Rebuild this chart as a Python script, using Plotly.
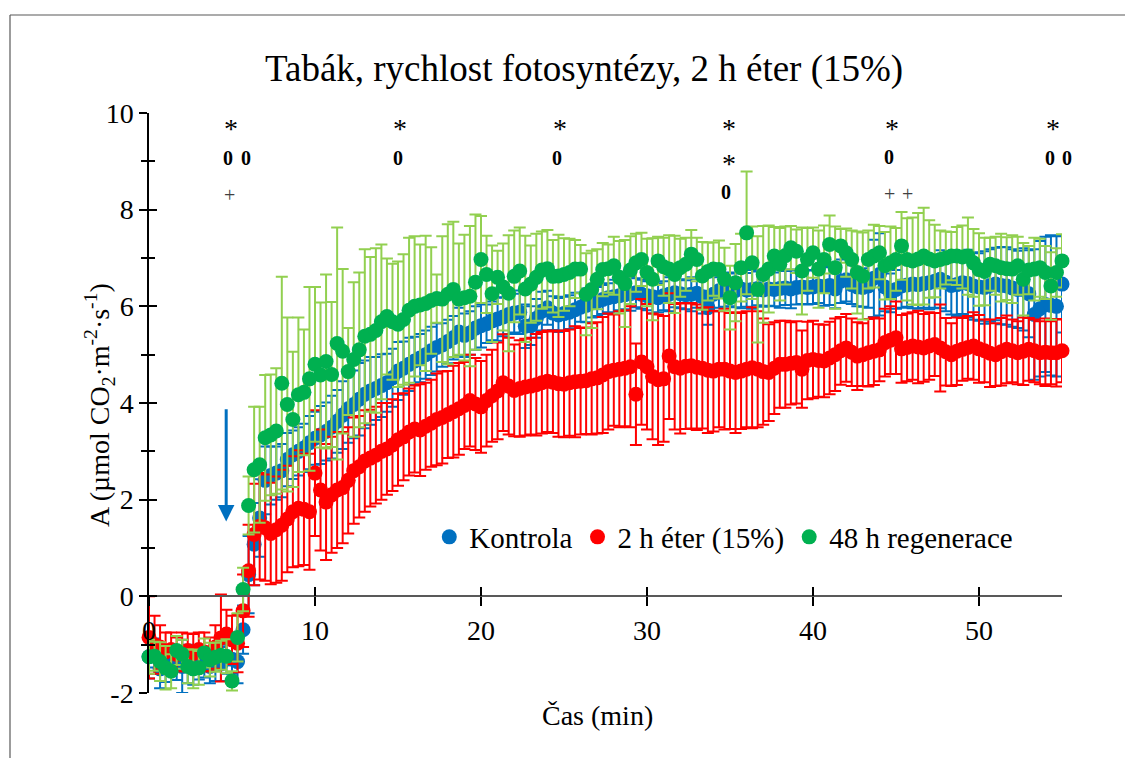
import plotly.graph_objects as go

# ---- data -------------------------------------------------------------
SAMPLE_STEP_MIN = 20 / 60          # one reading every 20 s
N_SAMPLES = 166                    # 0 ... 55 min
time_min = [round(i * SAMPLE_STEP_MIN, 4) for i in range(N_SAMPLES)]

kontrola = [
    -1.25, -1.17, -1.5, -1.42, -1.35, -1.38, -1.45, -1.4, -1.48, -1.42, -1.38, -1.45, -1.35, -1.4, -1.3,
    -1.3, -1.35, -0.69, 0.45, 1.08, 1.62, 2.4, 2.5, 2.55, 2.6, 2.83, 2.93, 3.0, 3.07, 3.18,
    3.27, 3.34, 3.41, 3.5, 3.62, 3.75, 3.88, 3.97, 4.08, 4.18, 4.25, 4.3, 4.36, 4.42, 4.52,
    4.66, 4.72, 4.8, 4.87, 4.93, 5.0, 5.08, 5.15, 5.2, 5.27, 5.35, 5.47, 5.4, 5.45, 5.55,
    5.6, 5.64, 5.7, 5.74, 5.78, 5.83, 5.86, 5.88, 5.59, 5.6, 5.75, 5.9, 5.97, 5.86, 5.82,
    5.85, 5.88, 5.93, 5.98, 6.02, 6.07, 6.1, 6.14, 6.18, 6.2, 6.22, 6.24, 6.26, 6.28, 6.25,
    6.22, 6.2, 6.18, 6.22, 6.25, 6.28, 6.26, 6.24, 6.25, 6.27, 6.2, 5.97, 6.25, 6.32, 6.34,
    6.35, 6.33, 6.36, 6.34, 6.35, 6.37, 6.34, 6.36, 6.35, 6.37, 6.38, 6.36, 6.39, 6.4, 6.39,
    6.4, 6.42, 6.41, 6.43, 6.36, 6.52, 6.55, 6.45, 6.4, 6.39, 6.42, 6.58, 6.66, 6.4, 6.28,
    6.35, 6.42, 6.44, 6.46, 6.45, 6.47, 6.49, 6.52, 6.56, 6.5, 6.43, 6.45, 6.49, 6.47, 6.42,
    6.4, 6.39, 6.43, 6.46, 6.43, 6.42, 6.38, 6.35, 6.35, 6.26, 5.83, 5.95, 6.04, 6.02, 6.0, 6.46,
]
kontrola_sd = [
    0.45, 0.3, 0.4, 0.35, 0.3, 0.35, 0.55, 0.4, 0.35, 0.3, 0.3, 0.35, 0.4, 0.35, 0.3,
    0.3, 0.45, 0.5, 0.8, 0.85, 0.8, 0.7, 0.6, 0.55, 0.55, 0.55, 0.5, 0.5, 0.5, 0.55,
    0.55, 0.6, 0.6, 0.65, 0.65, 0.7, 0.7, 0.7, 0.75, 0.7, 0.7, 0.65, 0.65, 0.6, 0.6,
    0.6, 0.55, 0.55, 0.5, 0.5, 0.5, 0.5, 0.5, 0.45, 0.45, 0.45, 0.5, 0.45, 0.45, 0.45,
    0.45, 0.4, 0.4, 0.45, 0.4, 0.4, 0.4, 0.45, 0.45, 0.4, 0.4, 0.4, 0.35, 0.35, 0.35,
    0.35, 0.35, 0.35, 0.3, 0.35, 0.3, 0.3, 0.3, 0.3, 0.35, 0.3, 0.3, 0.35, 0.3, 0.3,
    0.3, 0.35, 0.3, 0.3, 0.35, 0.3, 0.3, 0.3, 0.35, 0.3, 0.35, 0.35, 0.35, 0.35, 0.35,
    0.35, 0.35, 0.4, 0.35, 0.4, 0.35, 0.35, 0.35, 0.35, 0.4, 0.35, 0.4, 0.35, 0.35, 0.35,
    0.35, 0.35, 0.4, 0.4, 0.4, 0.45, 0.45, 0.4, 0.4, 0.4, 0.45, 0.8, 0.85, 0.5, 0.4,
    0.4, 0.45, 0.45, 0.5, 0.5, 0.5, 0.55, 0.55, 0.6, 0.6, 0.6, 0.65, 0.65, 0.7, 0.7,
    0.7, 0.75, 0.75, 0.75, 0.8, 0.8, 0.8, 0.8, 0.85, 0.9, 1.35, 1.4, 1.4, 1.45, 1.45, 1.0,
]

eter = [
    -0.85, -1.0, -1.05, -1.15, -1.1, -1.2, -1.15, -1.12, -1.18, -1.1, -1.15, -1.2, -1.05, -0.86, -0.78,
    -0.9, -0.97, -0.3, 0.53, 1.28, 1.45, 1.42, 1.3, 1.38, 1.47, 1.6, 1.75, 1.82, 1.8, 1.75,
    2.55, 2.2, 1.95, 2.1, 2.2, 2.25, 2.4, 2.6, 2.68, 2.8, 2.86, 2.92, 3.0, 3.05, 3.13,
    3.24, 3.3, 3.4, 3.46, 3.44, 3.52, 3.58, 3.66, 3.7, 3.76, 3.82, 3.88, 3.95, 4.05, 3.98,
    3.92, 4.05, 4.15, 4.25, 4.42, 4.35, 4.26, 4.3, 4.33, 4.35, 4.38, 4.42, 4.45, 4.43, 4.4,
    4.39, 4.42, 4.44, 4.45, 4.46, 4.5, 4.52, 4.58, 4.65, 4.68, 4.7, 4.72, 4.75, 4.18, 4.85,
    4.75, 4.55, 4.48, 4.5, 4.97, 4.75, 4.72, 4.76, 4.77, 4.74, 4.72, 4.68, 4.66, 4.7, 4.7,
    4.66, 4.63, 4.66, 4.7, 4.73, 4.7, 4.65, 4.63, 4.72, 4.8, 4.8, 4.82, 4.84, 4.7, 4.88,
    4.9, 4.88, 4.87, 4.93, 5.0, 5.08, 5.14, 5.05, 4.97, 5.0, 5.04, 5.07, 5.1, 5.25, 5.3,
    5.35, 5.12, 5.15, 5.18, 5.16, 5.14, 5.18, 5.21, 5.14, 5.06, 5.0, 5.07, 5.11, 5.15, 5.18,
    5.12, 5.08, 5.03, 5.0, 5.06, 5.11, 5.08, 5.04, 5.07, 5.11, 5.08, 5.04, 5.05, 5.04, 5.04, 5.08,
]
eter_sd = [
    0.85, 0.6, 0.45, 0.4, 0.35, 0.35, 0.4, 0.35, 0.4, 0.35, 0.4, 0.35, 0.45, 0.9, 0.5,
    0.5, 0.6, 0.75, 0.95, 1.05, 1.1, 1.1, 1.05, 1.1, 1.15, 1.1, 1.15, 1.2, 1.15, 1.2,
    1.3, 1.25, 1.2, 1.2, 1.2, 1.15, 1.1, 1.1, 1.05, 1.05, 1.0, 1.0, 1.0, 0.95, 0.95,
    0.95, 0.9, 0.9, 0.9, 0.95, 0.9, 0.9, 0.95, 0.95, 0.9, 0.95, 0.95, 0.9, 0.95, 0.95,
    0.95, 0.95, 0.95, 1.0, 1.0, 1.0, 0.95, 1.0, 1.0, 1.0, 1.05, 1.05, 1.05, 1.05, 1.1,
    1.1, 1.1, 1.15, 1.1, 1.1, 1.15, 1.15, 1.2, 1.2, 1.15, 1.2, 1.2, 1.25, 1.05, 1.3,
    1.3, 1.3, 1.35, 1.3, 1.3, 1.3, 1.35, 1.3, 1.3, 1.3, 1.25, 1.3, 1.25, 1.2, 1.25,
    1.2, 1.25, 1.2, 1.2, 1.25, 1.2, 1.1, 1.0, 0.95, 0.9, 0.9, 0.85, 0.85, 0.8, 0.8,
    0.8, 0.75, 0.75, 0.75, 0.75, 0.7, 0.7, 0.7, 0.7, 0.65, 0.7, 0.7, 0.65, 0.7, 0.7,
    0.75, 0.7, 0.7, 0.7, 0.75, 0.7, 0.7, 0.65, 0.9, 0.7, 0.65, 0.7, 0.65, 0.65, 0.7,
    0.7, 0.65, 0.7, 0.65, 0.7, 0.7, 0.65, 0.65, 0.7, 0.65, 0.65, 0.65, 0.7, 0.65, 0.7, 0.65,
]

regenerace = [
    -1.25, -1.24, -1.35, -1.48, -1.55, -1.12, -1.2, -1.45, -1.5, -1.48, -1.17, -1.31, -1.26, -1.22, -1.24,
    -1.75, -0.85, 0.14, 1.88, 2.62, 2.72, 3.28, 3.34, 3.42, 4.41, 3.97, 3.66, 4.17, 4.22, 4.5,
    4.8, 4.58, 4.86, 4.59, 5.23, 5.07, 4.65, 4.9, 5.1, 5.38, 5.42, 5.5, 5.68, 5.79, 5.68,
    5.63, 5.73, 5.92, 6.0, 6.03, 6.06, 6.12, 6.16, 6.15, 6.25, 6.35, 6.15, 6.18, 6.21, 6.5,
    6.97, 6.66, 6.26, 6.6, 6.4, 6.27, 6.62, 6.73, 6.36, 6.46, 6.6, 6.75, 6.78, 6.62, 6.63,
    6.66, 6.7, 6.77, 6.77, 6.25, 6.35, 6.56, 6.76, 6.78, 6.84, 6.6, 6.47, 6.75, 6.9, 6.97,
    6.7, 6.56, 6.94, 6.82, 6.77, 6.66, 6.8, 6.87, 7.08, 6.97, 6.63, 6.72, 6.77, 6.76, 6.56,
    6.18, 6.49, 6.8, 7.52, 6.9, 6.35, 6.66, 6.77, 7.04, 6.87, 7.05, 7.21, 7.14, 6.73, 6.97,
    7.11, 6.77, 6.97, 7.28, 6.8, 7.25, 7.11, 6.97, 6.7, 6.63, 6.97, 7.04, 7.11, 6.84, 6.9,
    6.97, 7.25, 6.97, 6.94, 6.98, 7.04, 6.98, 6.94, 6.97, 7.0, 7.04, 7.04, 7.02, 7.04, 6.9,
    6.76, 6.72, 6.87, 6.84, 6.8, 6.78, 6.77, 6.84, 6.56, 6.75, 6.77, 6.8, 6.7, 6.42, 6.7, 6.94,
]
regenerace_sd = [
    0.35, 0.3, 0.4, 0.45, 0.35, 0.3, 0.3, 0.35, 0.4, 0.35, 0.3, 0.35, 0.3, 0.3, 0.35,
    0.2, 0.5, 0.45, 0.6, 1.3, 1.2, 1.3, 1.25, 1.3, 2.2, 1.8, 1.4, 1.6, 1.3, 1.9,
    1.6, 1.5, 1.8, 1.5, 2.4, 1.7, 0.9, 1.6, 1.6, 1.8, 1.6, 1.7, 1.6, 1.2, 1.2,
    1.3, 1.35, 1.5, 1.45, 1.25, 1.4, 1.1, 0.5, 1.3, 1.45, 1.4, 1.15, 1.3, 1.45, 1.4,
    0.9, 0.8, 1.0, 0.55, 0.9, 1.2, 0.95, 0.9, 1.1, 0.8, 0.9, 0.8, 0.8, 0.75, 0.85,
    0.75, 0.7, 0.6, 0.5, 0.85, 0.8, 0.62, 0.55, 0.5, 0.6, 0.75, 0.9, 0.7, 0.6, 0.55,
    0.7, 0.85, 0.5, 0.6, 0.7, 0.8, 0.6, 0.55, 0.5, 0.45, 0.7, 0.6, 0.55, 0.6, 0.65,
    0.66, 0.8, 0.7, 1.27, 0.75, 1.1, 1.0, 0.9, 0.6, 0.75, 0.6, 0.45, 0.45, 0.9, 0.65,
    0.52, 0.8, 0.7, 0.6, 0.85, 0.35, 0.5, 0.6, 0.85, 0.9, 0.6, 0.65, 0.55, 0.7, 0.75,
    0.65, 0.7, 0.85, 0.9, 0.95, 1.0, 0.8, 0.75, 0.6, 0.55, 0.5, 0.6, 0.65, 0.8, 0.7,
    0.75, 0.7, 0.55, 0.6, 0.7, 0.65, 0.7, 0.6, 0.75, 0.5, 0.65, 0.6, 0.55, 0.7, 0.5, 0.55,
]

series_names = ["Kontrola", "2 h éter (15%)", "48 h regenerace"]

# significance marks above the curves: symbol, time [min], height [A]
sig_text = ["*", "0", "0", "+",
            "*", "0",
            "*", "0",
            "*", "*", "0",
            "*", "0", "+", "+",
            "*", "0", "0"]
sig_time = [4.94, 4.76, 5.84, 4.82,
            15.1, 15.0,
            24.76, 24.6,
            34.94, 34.94, 34.76,
            44.76, 44.58, 44.58, 45.72,
            54.46, 54.28, 55.3]
sig_level = [9.8, 9.06, 9.06, 8.3,
             9.8, 9.06,
             9.8, 9.06,
             9.8, 9.08, 8.36,
             9.8, 9.08, 8.32, 8.32,
             9.8, 9.06, 9.06]

# light switched on (arrow)
arrow_time = 4.65
arrow_from = 3.9
arrow_to = 1.55

X_RANGE = [0, 55]
Y_RANGE = [-2, 10]
x_ticks = [0, 10, 20, 30, 40, 50]
y_ticks = [-2, 0, 2, 4, 6, 8, 10]
y_tick_labels = ["-2", "0", "2", "4", "6", "8", "10"]

# ---- styling ----------------------------------------------------------
FONT = "Liberation Serif"
BLUE, RED, GREEN, LIGHT_GREEN = "#0070C0", "#FF0000", "#00B050", "#92D050"
TEXT_SIZE = 28

fig = go.Figure()

styles = [
    (kontrola, kontrola_sd, BLUE, BLUE),
    (eter, eter_sd, RED, RED),
    (regenerace, regenerace_sd, GREEN, LIGHT_GREEN),
]
for name, (vals, sd, mcol, ecol) in zip(series_names, styles):
    fig.add_trace(go.Scatter(
        x=time_min, y=vals, name=name, mode="markers",
        marker=dict(color=mcol, size=15, line=dict(width=0)),
        error_y=dict(type="data", array=sd, visible=True, color=ecol,
                     thickness=2, width=6),
        cliponaxis=False,
    ))

# helper trace carrying the mirrored axes that give the crossing ticks
fig.add_trace(go.Scatter(
    x=time_min[:1], y=kontrola[:1], xaxis="x2", yaxis="y2", mode="markers",
    marker=dict(opacity=0), showlegend=False, hoverinfo="skip",
))

zero_pos = (0 - Y_RANGE[0]) / (Y_RANGE[1] - Y_RANGE[0])
tick_font = dict(family=FONT, size=TEXT_SIZE, color="black")
minor_y = dict(tickmode="linear", tick0=Y_RANGE[0], dtick=1, ticklen=6,
               tickwidth=1.5, tickcolor="black")

fig.update_layout(
    width=1125, height=758,
    paper_bgcolor="white", plot_bgcolor="white",
    margin=dict(l=149, r=63, t=113, b=65, autoexpand=False),
    font=dict(family=FONT, color="black"),
    title=dict(text="Tabák, rychlost fotosyntézy, 2 h éter (15%)",
               font=dict(family=FONT, size=37, color="black"),
               xref="paper", x=0.4765, xanchor="center",
               yref="container", y=1 - 68 / 758, yanchor="middle"),
    xaxis=dict(range=X_RANGE, anchor="free", position=zero_pos,
               tickmode="array", tickvals=x_ticks,
               ticks="outside", ticklen=9, tickwidth=1.5, tickcolor="black",
               showline=True, linecolor="#595959", linewidth=2,
               showgrid=False, zeroline=False, tickfont=tick_font,
               ticklabelstandoff=0),
    xaxis2=dict(range=X_RANGE, overlaying="x", anchor="free", position=zero_pos,
                tickmode="array", tickvals=x_ticks,
                ticks="inside", ticklen=9, tickwidth=1.5, tickcolor="black",
                showticklabels=False, showline=False, showgrid=False,
                zeroline=False),
    yaxis=dict(range=Y_RANGE, tickmode="array", tickvals=y_ticks,
               ticktext=y_tick_labels,
               ticks="outside", ticklen=8, tickwidth=1.5, tickcolor="black",
               minor=dict(ticks="outside", **minor_y),
               showline=True, linecolor="black", linewidth=1.5,
               showgrid=False, zeroline=False, tickfont=tick_font,
               ticklabelstandoff=0),
    yaxis2=dict(range=Y_RANGE, overlaying="y", anchor="x", side="left",
                tickmode="array", tickvals=y_ticks,
                ticks="inside", ticklen=8, tickwidth=1.5, tickcolor="black",
                minor=dict(ticks="inside", **minor_y),
                showticklabels=False, showline=False, showgrid=False,
                zeroline=False),
    legend=dict(orientation="h", x=0.307, xanchor="left", y=0.269,
                yanchor="middle", bgcolor="rgba(0,0,0,0)",
                font=dict(family=FONT, size=29, color="black")),
    showlegend=True,
)

annotations = [
    dict(text="A (µmol CO<sub>2</sub>·m<sup>-2</sup>·s<sup>-1</sup>)",
         xref="paper", yref="paper", x=-0.0537, y=0.4966,
         xanchor="center", yanchor="middle", textangle=-90,
         showarrow=False, font=dict(family=FONT, size=TEXT_SIZE, color="black")),
    dict(text="Čas (min)", xref="paper", yref="paper", x=0.4907, y=-0.038,
         xanchor="center", yanchor="middle",
         showarrow=False, font=dict(family=FONT, size=TEXT_SIZE, color="black")),
    dict(x=arrow_time, y=arrow_to, ax=arrow_time, ay=arrow_from,
         xref="x", yref="y", axref="x", ayref="y", text="", showarrow=True,
         arrowhead=2, arrowsize=1.1, arrowwidth=3, arrowcolor=BLUE),
]
x_span = X_RANGE[1] - X_RANGE[0]
for s, t, v in zip(sig_text, sig_time, sig_level):
    if s == "*":
        f = dict(family=FONT, size=28, color="black")
        shift = -6
    elif s == "0":
        f = dict(family=FONT, size=20, color="black", weight="bold")
        shift = 0
    else:
        f = dict(family=FONT, size=20, color="#404040")
        shift = 0
    # horizontal position as a fraction of the time axis, so marks just past
    # the last reading are still drawn
    annotations.append(dict(text=s, x=(t - X_RANGE[0]) / x_span, y=v,
                            xref="paper", yref="y",
                            xanchor="center", yanchor="middle",
                            showarrow=False, font=f, yshift=shift))
fig.update_layout(annotations=annotations)

# chart-area frame (top and left edges)
frame_x = (10 - 149) / 913
frame_y = (693 - 15) / 580
fig.add_shape(type="line", xref="paper", yref="paper",
              x0=frame_x, y0=frame_y, x1=1.2, y1=frame_y,
              line=dict(color="#595959", width=1.2))
fig.add_shape(type="line", xref="paper", yref="paper",
              x0=frame_x, y0=frame_y, x1=frame_x, y1=-0.2,
              line=dict(color="#595959", width=1.2))

fig.write_html("out.html")
